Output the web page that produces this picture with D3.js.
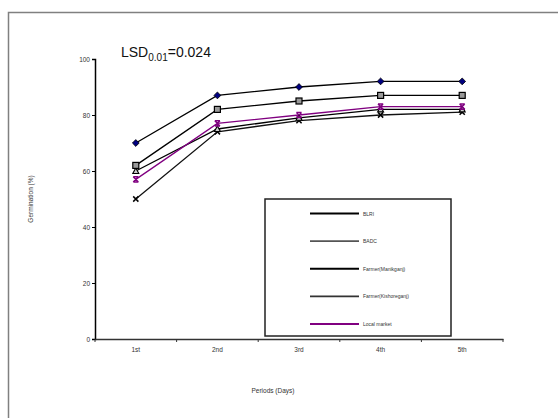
<!DOCTYPE html>
<html>
<head>
<meta charset="utf-8">
<script src="https://cdn.jsdelivr.net/npm/d3@7"></script>
<style>
  html, body { margin: 0; padding: 0; background: #fff; }
  svg { display: block; font-family: "Liberation Sans", Arial, sans-serif; }
</style>
</head>
<body>
<svg id="chart" width="558" height="418"></svg>
<script>
// Germination over storage periods by seed source
const periods = ["1st", "2nd", "3rd", "4th", "5th"];
const seriesNames = ["BLRI", "BADC", "Farmer(Manikganj)", "Farmer(Kishoreganj)", "Local market"];
const blri = [70, 87, 90, 92, 92];
const badc = [62, 82, 85, 87, 87];
const farmerManikganj = [60, 75, 79, 82, 82];
const farmerKishoreganj = [50, 74, 78, 80, 81];
const localMarket = [57, 77, 80, 83, 83];
const yTicks = [0, 20, 40, 60, 80, 100];

const series = [
  { name: seriesNames[0], values: blri, color: "#000", legendColor: "#000", marker: "diamond" },
  { name: seriesNames[1], values: badc, color: "#000", legendColor: "#555", marker: "square" },
  { name: seriesNames[2], values: farmerManikganj, color: "#000", legendColor: "#000", marker: "triangle" },
  { name: seriesNames[3], values: farmerKishoreganj, color: "#111", legendColor: "#333", marker: "cross" },
  { name: seriesNames[4], values: localMarket, color: "#800080", legendColor: "#800080", marker: "star" }
];

const svg = d3.select("#chart");

// outer chart frame (runs off the right and bottom)
svg.append("rect")
  .attr("x", 8.5).attr("y", 12.5)
  .attr("width", 600).attr("height", 500)
  .attr("fill", "none").attr("stroke", "#808080").attr("stroke-width", 1.5);

const plot = { left: 95, right: 503, top: 59, bottom: 339 };

const x = d3.scaleBand().domain(periods).range([plot.left, plot.right]);
const y = d3.scaleLinear().domain([0, 100]).range([plot.bottom, plot.top]);

// y axis
const yAxis = svg.append("g")
  .attr("transform", `translate(${plot.left},0)`)
  .call(d3.axisLeft(y).tickValues(yTicks).tickSize(3).tickPadding(2));
yAxis.select(".domain").attr("stroke", "#000").attr("stroke-width", 1.5);
yAxis.selectAll(".tick line").attr("stroke", "#000");
yAxis.selectAll("text").attr("font-size", 6.5).attr("fill", "#333");

// x axis with tick marks on category boundaries
const xAxis = svg.append("g")
  .attr("transform", `translate(0,${plot.bottom})`)
  .call(d3.axisBottom(x).tickSize(0).tickPadding(8));
xAxis.select(".domain").attr("stroke", "#333").attr("stroke-width", 1.5);
xAxis.selectAll("text").attr("font-size", 6.5).attr("fill", "#333");
const bounds = periods.map(p => x(p)).concat([plot.right]);
xAxis.selectAll(".bound").data(bounds).enter().append("line")
  .attr("x1", d => d).attr("x2", d => d)
  .attr("y1", 0).attr("y2", 3)
  .attr("stroke", "#333");

// axis titles
svg.append("text")
  .attr("transform", `translate(33,${(plot.top + plot.bottom) / 2}) rotate(-90)`)
  .attr("text-anchor", "middle").attr("font-size", 6.5).attr("fill", "#333")
  .text("Germination (%)");
svg.append("text")
  .attr("x", 273).attr("y", 393)
  .attr("text-anchor", "middle").attr("font-size", 6.5).attr("fill", "#333")
  .text("Periods (Days)");

// LSD annotation
const lsd = svg.append("text").attr("x", 121).attr("y", 57).attr("font-size", 14).attr("fill", "#111");
lsd.append("tspan").text("LSD");
lsd.append("tspan").attr("font-size", 10).attr("dy", 4).text("0.01");
lsd.append("tspan").attr("dy", -4).text("=0.024");

// legend box
const legend = { x: 265, y: 199, w: 186, h: 137 };
svg.append("rect")
  .attr("x", legend.x).attr("y", legend.y)
  .attr("width", legend.w).attr("height", legend.h)
  .attr("fill", "#fff").attr("stroke", "#222").attr("stroke-width", 1.5);
const ly = d3.scalePoint().domain(seriesNames).range([213.5, 324]);
const lg = svg.append("g").selectAll("g").data(series).enter().append("g")
  .attr("transform", d => `translate(0,${ly(d.name)})`);
lg.append("line")
  .attr("x1", 310).attr("x2", 359).attr("y1", 0).attr("y2", 0)
  .attr("stroke", d => d.legendColor).attr("stroke-width", 1.8);
lg.append("text")
  .attr("x", 363).attr("y", 2)
  .attr("font-size", 5).attr("fill", "#333")
  .text(d => d.name);

// series lines
const line = d3.line()
  .x((d, i) => x(periods[i]) + x.bandwidth() / 2)
  .y(d => y(d));

const drawOrder = [3, 2, 1, 0, 4];
drawOrder.forEach(k => {
  const s = series[k];
  svg.append("path")
    .datum(s.values)
    .attr("d", line)
    .attr("fill", "none")
    .attr("stroke", s.color)
    .attr("stroke-width", 1.3);
});

// markers
function drawMarker(g, type, color) {
  if (type === "diamond") {
    g.append("path").attr("d", "M0,-3.4L3.4,0L0,3.4L-3.4,0Z")
      .attr("fill", "#000080").attr("stroke", "#000").attr("stroke-width", 0.8);
  } else if (type === "square") {
    g.append("rect").attr("x", -3).attr("y", -3).attr("width", 6).attr("height", 6)
      .attr("fill", "#999").attr("stroke", "#000").attr("stroke-width", 1.2);
  } else if (type === "triangle") {
    g.append("path").attr("d", "M0,-3L3,2.5L-3,2.5Z")
      .attr("fill", "#ccc").attr("stroke", "#000").attr("stroke-width", 1.1);
  } else if (type === "cross") {
    g.append("path").attr("d", "M-2.6,-2.6L2.6,2.6M2.6,-2.6L-2.6,2.6")
      .attr("stroke", "#000").attr("stroke-width", 1.5);
  } else if (type === "star") {
    g.append("path").attr("d", "M-2.6,-2.6L2.6,2.6M2.6,-2.6L-2.6,2.6M-2.6,-2.6H2.6M-2.6,2.6H2.6")
      .attr("stroke", color).attr("stroke-width", 1.4);
  }
}
drawOrder.forEach(k => {
  const s = series[k];
  s.values.forEach((v, i) => {
    const g = svg.append("g")
      .attr("transform", `translate(${x(periods[i]) + x.bandwidth() / 2},${y(v)})`);
    drawMarker(g, s.marker, s.color);
  });
});
</script>
</body>
</html>
